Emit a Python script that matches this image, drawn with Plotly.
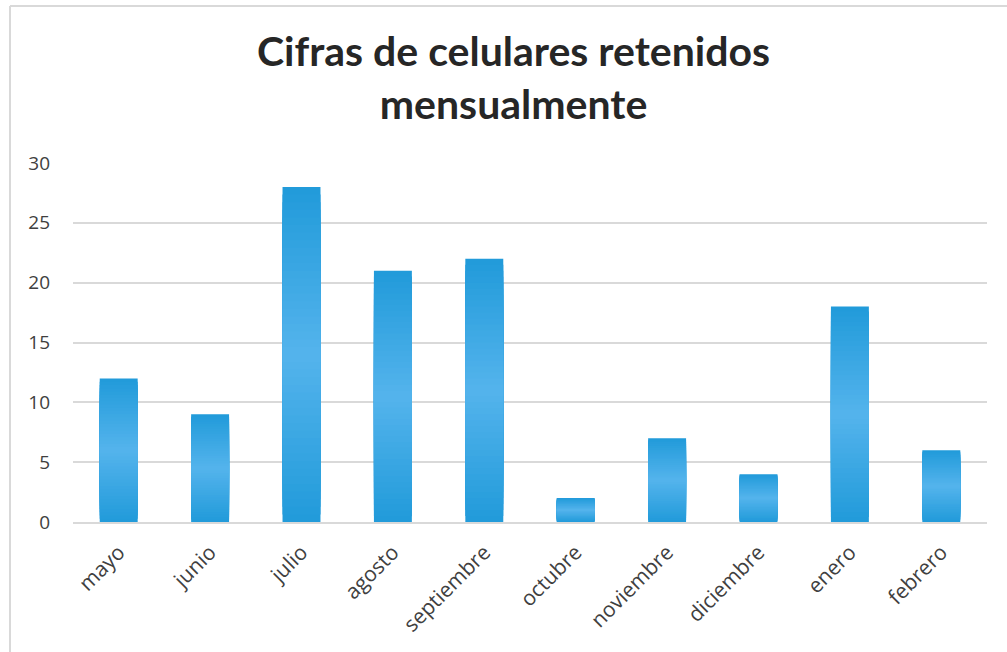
import numpy as np
import plotly.graph_objects as go

# Monthly counts of seized phones
meses = ["mayo", "junio", "julio", "agosto", "septiembre",
         "octubre", "noviembre", "diciembre", "enero", "febrero"]
valores = [12, 9, 28, 21, 22, 2, 7, 4, 18, 6]
y_ticks = [0, 5, 10, 15, 20, 25, 30]

titulo = "Cifras de celulares retenidos<br>mensualmente"

# Gradient fill: stacked inset layers from dark edge to light centre
dark = np.array([0x22, 0x9B, 0xDA])
light = np.array([0x53, 0xB3, 0xEC])
n_layers = 22

fig = go.Figure()
vals = np.array(valores, dtype=float)
for k in range(n_layers):
    t = 0.5 * k / n_layers
    frac = k / (n_layers - 1)
    c = dark + (light - dark) * frac
    color = "rgb(%d,%d,%d)" % tuple(np.round(c).astype(int))
    fig.add_trace(go.Bar(
        x=meses,
        y=vals * (1 - 2 * t),
        base=vals * t,
        marker=dict(color=color, line=dict(width=0)),
        width=0.415,
        hoverinfo="skip" if k else "x+y",
        showlegend=False,
    ))

fig.update_layout(
    width=1007,
    height=652,
    barmode="overlay",
    paper_bgcolor="white",
    plot_bgcolor="white",
    margin=dict(l=73, r=20, t=163, b=130),
    font=dict(family="Open Sans", color="#404040"),
    showlegend=False,
)

fig.update_yaxes(
    range=[0, 30],
    tickvals=y_ticks,
    showgrid=True,
    gridcolor="#D9D9D9",
    gridwidth=1.5,
    zeroline=False,
    showline=False,
    tickfont=dict(family="Open Sans", size=19, color="#404040"),
    ticklabelstandoff=22,
)

fig.update_xaxes(
    showgrid=False,
    showline=True,
    linecolor="#D9D9D9",
    linewidth=1.5,
    tickangle=-45,
    tickfont=dict(family="Open Sans", size=21, color="#404040"),
    ticklabelstandoff=8,
)

fig.add_annotation(
    text="<b>" + titulo + "</b>",
    xref="paper", yref="paper",
    x=(513 - 73) / 914, y=(522 - 77) / 359,
    xanchor="center", yanchor="middle",
    showarrow=False,
    font=dict(family="Lato", size=41, color="#262626"),
)

# Outer chart frame (left and top edges)
fig.add_shape(type="line", xref="paper", yref="paper",
              x0=-63 / 914, x1=-63 / 914, y0=(522 - 6) / 359, y1=-140 / 359,
              line=dict(color="#D9D9D9", width=2))
fig.add_shape(type="line", xref="paper", yref="paper",
              x0=-63 / 914, x1=960 / 914, y0=(522 - 6) / 359, y1=(522 - 6) / 359,
              line=dict(color="#D9D9D9", width=2))

fig.write_html("out.html")
